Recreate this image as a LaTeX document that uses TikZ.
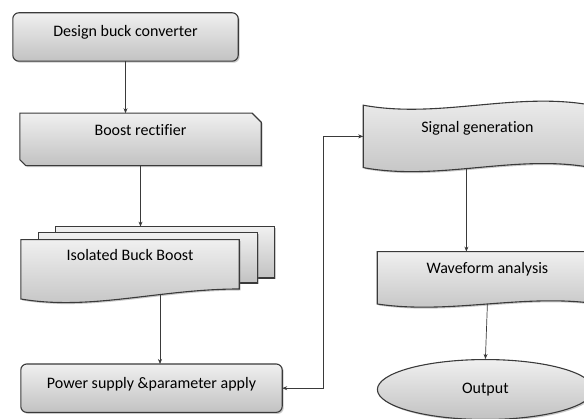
\documentclass[tikz,border=0pt]{standalone}
\usepackage{fontspec}
\setmainfont{Carlito}[Ligatures=NoCommon]
\usepackage{tikz}
\usetikzlibrary{arrows.meta,positioning,shapes.geometric,backgrounds,shadows}
\definecolor{edge}{HTML}{3A3A3A}

\begin{document}
\begin{tikzpicture}[
  x=1pt, y=1pt,
  font=\fontsize{16}{19}\selectfont,
  >={Stealth[length=5pt,width=4pt]},
  flow/.style={->, draw=edge, line width=0.7pt},
  card/.style={minimum height=48pt, inner sep=0pt, text height=11pt, text depth=#1},
  card/.default=11pt,
  tile/.style={draw=edge, line width=1.1pt, top color=black!6, bottom color=black!24,
    drop shadow={shadow xshift=1.5pt, shadow yshift=-1.5pt, opacity=.35, fill=black!60}}
]
\useasboundingbox (0,0) rectangle (584,419);
\node[card, minimum width=225pt] (design) at (125.5,382) {Design buck converter};
\node[card=19pt, minimum width=241pt, minimum height=52pt, below=52pt of design, xshift=15pt] (boost) {Boost rectifier};
\node[card=28pt, minimum width=218pt, minimum height=59pt, below=74pt of boost, xshift=-10.5pt] (iso) {Isolated Buck Boost};
\node[card, minimum width=261pt, below=65pt of iso, xshift=21.5pt] (power) {Power supply \&parameter apply};
\node[card=19pt, minimum width=228pt, minimum height=62pt, right=102pt of boost, yshift=3pt] (signal) {Signal generation};
\node[card=19pt, minimum width=220pt, minimum height=52pt, below=84pt of signal, xshift=10pt] (wave) {Waveform analysis};
\node[tile, ellipse, inner sep=0pt, minimum width=216pt, minimum height=60pt, below=55pt of wave, xshift=-2pt] (output) {Output};
\coordinate (isotop) at ([xshift=35pt,yshift=13pt]iso.north);

% shapes behind the texts
\begin{scope}[on background layer]
  \draw[tile, rounded corners=6pt] (design.south west) rectangle (design.north east);
  \draw[tile] (boost.north west) -- ([xshift=-9pt]boost.north east) -- ([yshift=-9pt]boost.north east)
    -- (boost.south east) -- ([xshift=6pt]boost.south west) -- ([yshift=6pt]boost.south west) -- cycle;
  \draw[tile] ([xshift=35pt,yshift=13pt]iso.north west) rectangle ([xshift=35pt,yshift=21pt]iso.south east);
  \draw[tile] ([xshift=18pt,yshift=7pt]iso.north west) rectangle ([xshift=18pt,yshift=16pt]iso.south east);
  \draw[tile] (iso.north west) -- (iso.north east) -- ([yshift=10pt]iso.south east)
    .. controls +(-80pt,0pt) and +(70pt,-12pt) .. (iso.south west) -- cycle;
  \draw[tile, rounded corners=6pt] (power.south west) rectangle (power.north east);
  \draw[tile] (signal.north west) .. controls +(76pt,-14pt) and +(-76pt,14pt) .. (signal.north east)
    -- (signal.south east) .. controls +(-76pt,14pt) and +(76pt,-14pt) .. (signal.south west) -- cycle;
  \draw[tile] (wave.north west) -- (wave.north east) -- (wave.south east)
    .. controls +(-73pt,11pt) and +(73pt,-11pt) .. (wave.south west) -- cycle;
\end{scope}

\draw[flow] (design.south) -- (design.south |- boost.north);
\draw[flow] (boost.south) -- (boost.south |- isotop);
\draw[flow] ([xshift=30pt,yshift=5pt]iso.south) -- ([xshift=30pt]iso.south |- power.north);
\draw[flow, <->] (power.east) -- ++(41pt,0) |- (signal.west);
\draw[flow] ([xshift=-11pt]signal.south) -- ([xshift=-11pt]signal.south |- wave.north);
\draw[flow] (wave.south) -- (output.north);
\end{tikzpicture}
\end{document}
